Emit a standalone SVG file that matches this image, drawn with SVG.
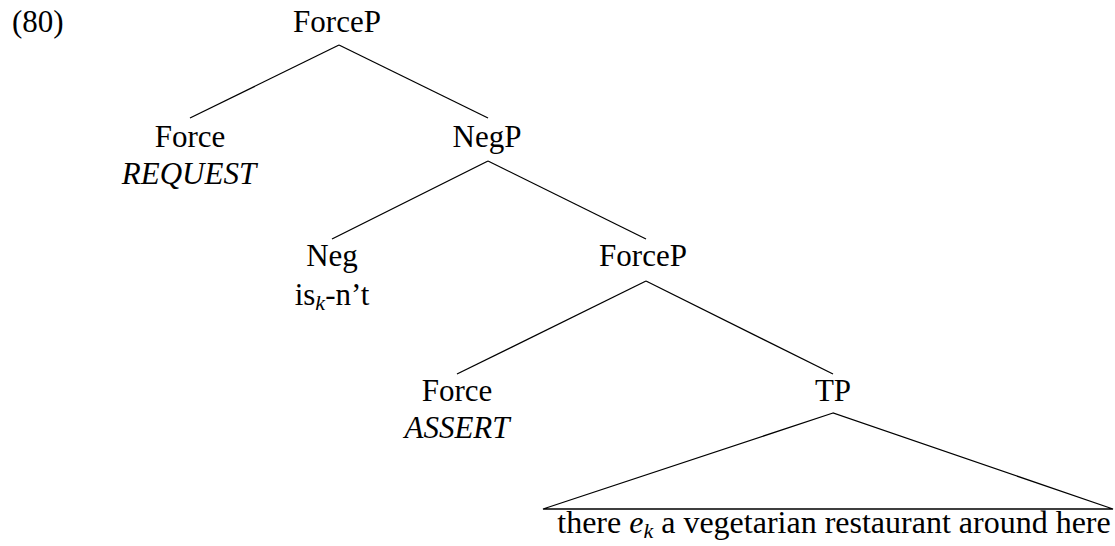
<svg xmlns="http://www.w3.org/2000/svg" width="1115" height="546" viewBox="0 0 1115 546" font-family="'Liberation Serif', 'Times New Roman', 'DejaVu Serif', serif">
<style>
text{font-family:'Liberation Serif','Times New Roman','DejaVu Serif',serif;font-size:31px;fill:#000}
.c{text-anchor:middle}
.i{font-style:italic}
.sub{font-style:italic;font-size:22px}
.big{font-size:32px}
.e line,.e polygon{stroke:#000;stroke-width:1.3;fill:none}
</style>
<rect width="1115" height="546" fill="#fff"/>
<text x="12" y="32">(80)</text>
<g class="e" id="connectors">
<line x1="339" y1="45" x2="190" y2="118"/>
<line x1="339" y1="45" x2="488" y2="118"/>
<line x1="488" y1="161" x2="332" y2="239"/>
<line x1="488" y1="161" x2="646" y2="239"/>
<line x1="646" y1="281" x2="457" y2="374"/>
<line x1="646" y1="281" x2="833" y2="374"/>
<polygon points="833,413 543,509 1113,509"/>
</g>
<g id="forceP1"><text class="c" x="337" y="32">ForceP</text></g>
<g id="force1"><text class="c" x="190" y="147">Force</text><text class="c i" x="189" y="184">REQUEST</text></g>
<g id="negP"><text class="c" x="487" y="147">NegP</text></g>
<g id="neg"><text class="c" x="332" y="266">Neg</text><text class="c" x="332" y="305">is<tspan class="sub" dy="5">k</tspan><tspan dy="-5">-n’t</tspan></text></g>
<g id="forceP2"><text class="c" x="643" y="266">ForceP</text></g>
<g id="force2"><text class="c" x="457" y="401">Force</text><text class="c i" x="457" y="438">ASSERT</text></g>
<g id="tp"><text class="c" x="833" y="401">TP</text></g>
<g id="tpText"><text class="c big" x="834" y="533">there <tspan class="i">e</tspan><tspan class="sub" dy="5">k</tspan><tspan dy="-5"> a vegetarian restaurant around here</tspan></text></g>
</svg>
